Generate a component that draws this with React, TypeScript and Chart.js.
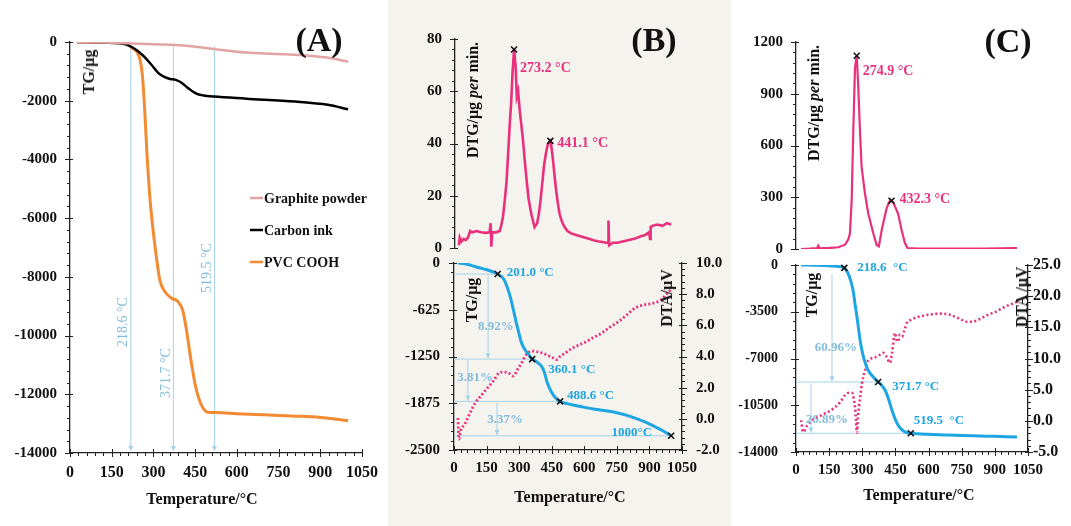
import React, { useEffect, useRef } from 'react';
import { Chart, registerables } from 'chart.js';

const SERIF = '"Liberation Serif", "Times New Roman", serif';
const PINK = '#e8307c';
const BLUE = '#1ea5e3';
const LIGHT_LINE = '#a6d2ea';
const LIGHT_TEXT = '#84bddc';
const INK = '#111111';

// ---------- Panel A : TG curves ----------
const aSeriesNames = ['Graphite powder', 'Carbon ink', 'PVC COOH'];
const aGraphiteT = [25, 100, 200, 300, 380, 450, 518, 600, 700, 775, 850, 925, 1000];
const aGraphiteW = [0, -10, -40, -80, -100, -160, -237, -330, -390, -420, -460, -530, -670];
const aInkT = [25, 100, 150, 200, 222, 247, 271, 295, 317, 341, 360, 380, 400, 423, 440, 458, 480, 518, 634, 810, 927, 1000];
const aInkW = [0, -10, -30, -80, -170, -330, -540, -800, -1050, -1200, -1260, -1290, -1380, -1560, -1680, -1770, -1820, -1860, -1930, -2030, -2140, -2290];
const aPvcT = [25, 150, 200, 222, 240, 252, 260, 268, 276, 288, 300, 312, 323, 341, 364, 388, 405, 417, 435, 452, 470, 493, 528, 600, 700, 800, 900, 1000];
const aPvcW = [0, -10, -40, -200, -330, -600, -1100, -2200, -3680, -5380, -6510, -7420, -8110, -8500, -8720, -8840, -9130, -9700, -10840, -11750, -12310, -12600, -12620, -12660, -12700, -12740, -12790, -12900];
const aOnsetT = [218.6, 371.7, 519.5];

// ---------- Panel B ----------
const bDtgT = [18, 22, 30, 40, 50, 60, 70, 80, 100, 120, 140, 160, 165, 168, 172, 190, 207, 215, 222, 230, 238, 245, 253, 260, 266, 273.2, 280, 286, 292, 299, 307, 315, 322, 330, 340, 353, 368, 380, 388, 396, 404, 411, 420, 430, 441.1, 447, 453, 460, 468, 476, 484, 495, 507, 520, 537, 560, 580, 599, 620, 640, 660, 675, 700, 708, 710, 713, 730, 752, 780, 800, 829, 860, 880, 898, 902, 905, 915, 936, 960, 980, 1000];
const bDtgV = [1, 4, 2.5, 3.5, 3, 4, 6.5, 6, 6.5, 6, 5.8, 6, 9.5, 0.5, 6, 6, 6.5, 9, 12, 18, 25, 35, 47, 56, 67, 76, 70, 58, 60, 53, 47, 41, 34, 27, 19, 13, 8, 9.5, 13, 18.5, 25, 31, 36, 40, 41, 38, 34, 28, 22, 17, 13, 10, 8, 6.5, 5.6, 5, 4.5, 4, 3.5, 3, 2.6, 2.4, 2, 2, 10.5, 1, 2, 2, 2.6, 3, 3.5, 4.5, 5, 6, 3.5, 8, 8.5, 9, 8.5, 9.5, 9];
const bPeakT = [273.2, 441.1];
const bPeakV = [76, 41];

const bTgT = [18, 50, 100, 150, 201, 230, 254, 270, 287, 300, 310, 325, 340, 360.1, 380, 400, 415, 430, 450, 470, 488.6, 520, 560, 601, 650, 700, 754, 800, 850, 879, 920, 960, 1000];
const bTgV = [0, -10, -50, -90, -147, -220, -400, -580, -800, -950, -1060, -1150, -1210, -1285, -1320, -1370, -1450, -1605, -1730, -1810, -1850, -1880, -1905, -1930, -1955, -1975, -2005, -2040, -2090, -2125, -2180, -2240, -2310];
const bDtaT = [18, 23, 30, 51, 75, 97, 125, 158, 185, 204, 227, 250, 273, 296, 312, 327, 342, 358, 385, 411, 435, 457, 475, 488, 510, 541, 570, 601, 640, 680, 720, 754, 790, 833, 870, 911, 950, 985, 1000];
const bDtaV = [0.05, -1.3, -0.8, -0.3, 0.4, 1.0, 1.5, 2.05, 2.5, 2.9, 3.0, 2.95, 2.75, 3.25, 3.6, 4.0, 4.25, 4.35, 4.3, 4.2, 4.05, 3.9, 3.8, 4.0, 4.2, 4.5, 4.7, 4.9, 5.2, 5.5, 5.9, 6.2, 6.6, 7.1, 7.3, 7.4, 7.6, 8.1, 8.3];
const bMarkT = [201.0, 360.1, 488.6, 1000];
const bMarkV = [-147, -1285, -1850, -2310];
const bMarkText = ['201.0 °C', '360.1 °C', '488.6 °C', '1000°C'];
const bLossText = ['8.92%', '3.81%', '3.37%'];

// ---------- Panel C ----------
const cDtgT = [23, 60, 95, 100, 104, 150, 192, 222, 237, 244, 252, 259, 267, 274.9, 282, 290, 297, 312, 327, 350, 365, 375, 388, 400, 410, 420, 428, 432.3, 440, 452, 463, 478, 493, 505, 550, 700, 850, 1000];
const cDtgV = [0, 2, 5, 18, 4, 6, 10, 25, 56, 90, 283, 670, 1052, 1120, 937, 670, 475, 323, 206, 90, 23, 15, 110, 180, 235, 268, 285, 280, 270, 235, 200, 110, 34, 5, 3, 3, 3, 5];
const cPeakT = [274.9, 432.3];
const cPeakV = [1120, 280];

const cTgT = [23, 100, 150, 200, 218.6, 235, 248, 258, 267, 276, 290, 301, 312, 323, 335, 355, 371.7, 385, 403, 418, 434, 448, 462, 480, 502, 519.5, 600, 688, 800, 900, 1000];
const cTgV = [0, -20, -60, -130, -220, -600, -1200, -1870, -2900, -3890, -5610, -6600, -7260, -7750, -8090, -8480, -8760, -8950, -9360, -10000, -10860, -11500, -11980, -12350, -12560, -12600, -12680, -12730, -12780, -12830, -12880];
const cDtaT = [23, 32, 50, 72, 100, 131, 155, 177, 200, 222, 240, 253, 262, 267, 272, 276, 280, 285, 292, 299, 310, 321, 340, 358, 380, 394, 410, 425, 435, 448, 455, 462, 470, 480, 490, 502, 520, 539, 580, 615, 650, 688, 720, 751, 775, 797, 830, 869, 910, 946, 1000];
const cDtaV = [0.1, -1.8, -0.8, 0.1, 0.6, 1.2, 1.6, 2.2, 3.0, 4.1, 4.5, 4.5, 3.5, 2.2, 0, -1.9, 0.5, 2.2, 4.2, 6.1, 7.8, 9.3, 10.0, 10.2, 10.6, 10.9, 10.3, 9.3, 11, 14.1, 13.0, 12.7, 13.8, 13.5, 14.5, 15.7, 16.2, 16.5, 16.9, 17.1, 17.2, 17.1, 16.7, 16.2, 15.9, 15.9, 16.3, 17.0, 17.6, 18.3, 19.1];
const cMarkT = [218.6, 371.7, 519.5];
const cMarkV = [-220, -8760, -12600];
const cMarkText = ['218.6  °C', '371.7 °C', '519.5  °C'];
const cLossText = ['60.96%', '26.89%'];

const xy = (t: number[], v: number[]) => t.map((x, i) => ({ x, y: v[i] }));
const fmtT = (t: number) => `${t.toFixed(1)} °C`;

// ---------- plugins ----------
const tickMarks = {
  id: 'tickMarks',
  afterDraw(chart: any, _a: any, opts: any) {
    const specs = opts && opts.axes;
    if (!specs) return;
    const ctx = chart.ctx;
    const ca = chart.chartArea;
    ctx.save();
    ctx.strokeStyle = '#222';
    ctx.lineWidth = 1;
    Object.keys(specs).forEach((id) => {
      const s = chart.scales[id];
      if (!s) return;
      const major = specs[id].major;
      const minor = specs[id].minor;
      const n = Math.round((s.max - s.min) / minor);
      for (let i = 0; i <= n; i++) {
        const v = s.min + i * minor;
        const r = v / major;
        const isMajor = Math.abs(r - Math.round(r)) < 1e-6;
        const p = Math.round(s.getPixelForValue(v)) + 0.5;
        ctx.beginPath();
        if (s.isHorizontal()) {
          const y = ca.bottom;
          ctx.moveTo(p, isMajor ? y - 4 : y);
          ctx.lineTo(p, y + (isMajor ? 4 : 3));
        } else if (s.position === 'left') {
          const x = ca.left;
          ctx.moveTo(isMajor ? x + 3 : x, p);
          ctx.lineTo(x - (isMajor ? 5 : 3), p);
        } else {
          const x = ca.right;
          ctx.moveTo(isMajor ? x - 3 : x, p);
          ctx.lineTo(x + (isMajor ? 5 : 3), p);
        }
        ctx.stroke();
      }
    });
    ctx.restore();
  },
};

const annot = {
  id: 'annot',
  beforeDatasetsDraw(chart: any, _a: any, opts: any) {
    const lines = (opts && opts.lines) || [];
    const ctx = chart.ctx;
    const xs = chart.scales.x;
    ctx.save();
    for (const l of lines) {
      const ys = chart.scales[l.axis || 'y'];
      const x1 = xs.getPixelForValue(l.x1);
      const x2 = xs.getPixelForValue(l.x2);
      const y1 = ys.getPixelForValue(l.y1);
      const y2 = ys.getPixelForValue(l.y2);
      ctx.strokeStyle = l.color;
      ctx.fillStyle = l.color;
      ctx.lineWidth = l.width || 1;
      ctx.beginPath();
      ctx.moveTo(x1, y1);
      ctx.lineTo(x2, y2);
      ctx.stroke();
      if (l.arrow) {
        const ang = Math.atan2(y2 - y1, x2 - x1);
        const L = 5, W = 2.5;
        ctx.beginPath();
        ctx.moveTo(x2, y2);
        ctx.lineTo(x2 - L * Math.cos(ang) + W * Math.sin(ang), y2 - L * Math.sin(ang) - W * Math.cos(ang));
        ctx.lineTo(x2 - L * Math.cos(ang) - W * Math.sin(ang), y2 - L * Math.sin(ang) + W * Math.cos(ang));
        ctx.closePath();
        ctx.fill();
      }
    }
    ctx.restore();
  },
  afterDatasetsDraw(chart: any, _a: any, opts: any) {
    if (!opts) return;
    const ctx = chart.ctx;
    const xs = chart.scales.x;
    ctx.save();
    for (const m of opts.markers || []) {
      const ys = chart.scales[m.axis || 'y'];
      const px = xs.getPixelForValue(m.x);
      const py = ys.getPixelForValue(m.y);
      ctx.strokeStyle = '#111';
      ctx.lineWidth = 1.6;
      ctx.beginPath();
      ctx.moveTo(px - 3, py - 3);
      ctx.lineTo(px + 3, py + 3);
      ctx.moveTo(px + 3, py - 3);
      ctx.lineTo(px - 3, py + 3);
      ctx.stroke();
    }
    for (const t of opts.texts || []) {
      const ys = chart.scales[t.axis || 'y'];
      const px = xs.getPixelForValue(t.x) + (t.dx || 0);
      const py = ys.getPixelForValue(t.y) + (t.dy || 0);
      ctx.save();
      ctx.translate(px, py);
      if (t.rotate) ctx.rotate((t.rotate * Math.PI) / 180);
      ctx.font = t.font;
      ctx.fillStyle = t.color;
      ctx.textAlign = t.align || 'left';
      ctx.textBaseline = 'middle';
      ctx.fillText(t.text, 0, 0);
      ctx.restore();
    }
    ctx.restore();
  },
};

const miniLegend = {
  id: 'miniLegend',
  afterDatasetsDraw(chart: any, _a: any, opts: any) {
    if (!opts || !opts.show) return;
    const ctx = chart.ctx;
    const ca = chart.chartArea;
    chart.data.datasets.forEach((d: any, i: number) => {
      const x = ca.left + opts.dx;
      const y = ca.top + opts.dy + i * opts.gap;
      ctx.save();
      ctx.strokeStyle = d.borderColor;
      ctx.lineWidth = 2.5;
      ctx.beginPath();
      ctx.moveTo(x, y);
      ctx.lineTo(x + 13, y);
      ctx.stroke();
      ctx.fillStyle = INK;
      ctx.font = `bold 14px ${SERIF}`;
      ctx.textAlign = 'left';
      ctx.textBaseline = 'middle';
      ctx.fillText(d.label, x + 14, y + 1);
      ctx.restore();
    });
  },
};

Chart.register(...registerables, tickMarks, annot, miniLegend);

// ---------- axis helpers ----------
const tickFont = (size: number) => ({ family: SERIF, weight: 'bold' as const, size });
const border = { display: true, color: '#222', width: 1.3 };
const noGrid = { drawOnChartArea: false, drawTicks: false };

function xAxis(h: number, pad: number, size: number) {
  return {
    type: 'linear', min: 0, max: 1050,
    afterFit: (s: any) => { s.height = h; },
    grid: noGrid, border,
    ticks: { stepSize: 150, autoSkip: false, maxRotation: 0, minRotation: 0, padding: pad, color: INK, font: tickFont(size), callback: (v: number) => String(v) },
  };
}
const hiddenX = { type: 'linear', min: 0, max: 1050, display: false };
function yAxis(position: string, min: number, max: number, step: number, w: number, pad: number, size: number, fmt: (v: number) => string) {
  return {
    type: 'linear', position, min, max,
    afterFit: (s: any) => { s.width = w; },
    grid: noGrid, border,
    ticks: { stepSize: step, autoSkip: false, padding: pad, color: INK, font: tickFont(size), callback: fmt },
  };
}
const intFmt = (v: number) => String(v);
const oneFmt = (v: number) => v.toFixed(1);

const base = { animation: false, responsive: false, maintainAspectRatio: false };
const hidePlugins = { legend: { display: false }, tooltip: { enabled: false } };

function line(label: string, data: any[], color: string, width: number, extra: any = {}) {
  return { label, data, borderColor: color, backgroundColor: color, borderWidth: width, pointRadius: 0, fill: false, ...extra };
}

const lblFont = (size: number, bold = true) => `${bold ? 'bold ' : ''}${size}px ${SERIF}`;

// ---------- chart configs ----------
function cfgA() {
  const aLabelY = [-9540, -11280, -7700];
  return {
    type: 'line',
    data: {
      datasets: [
        line(aSeriesNames[0], xy(aGraphiteT, aGraphiteW), '#e4a3a3', 2.5, { cubicInterpolationMode: 'monotone' }),
        line(aSeriesNames[1], xy(aInkT, aInkW), '#000000', 2.5, { cubicInterpolationMode: 'monotone' }),
        line(aSeriesNames[2], xy(aPvcT, aPvcW), '#f28b32', 3, { cubicInterpolationMode: 'monotone' }),
      ],
    },
    options: {
      ...base,
      layout: { padding: { left: 0, top: 42, right: 20, bottom: 0 } },
      scales: { x: xAxis(73, 10, 16), y: yAxis('left', -14000, 0, 2000, 70, 13, 15, intFmt) },
      plugins: {
        ...hidePlugins,
        tickMarks: { axes: { x: { major: 150, minor: 30 }, y: { major: 2000, minor: 400 } } },
        miniLegend: { show: true, dx: 180, dy: 156, gap: 32 },
        annot: {
          lines: aOnsetT.map((t) => ({ x1: t, y1: -150, x2: t, y2: -13930, color: LIGHT_LINE, width: 1, arrow: true })),
          texts: aOnsetT.map((t, i) => ({ x: t, y: aLabelY[i], dx: -7, text: fmtT(t), color: LIGHT_TEXT, font: lblFont(14, false), align: 'center', rotate: -90 })),
        },
      },
    },
  };
}

function cfgBTop() {
  const off = [[6, 19], [7, 3]];
  return {
    type: 'line',
    data: { datasets: [line('DTG', xy(bDtgT, bDtgV), PINK, 2.6)] },
    options: {
      ...base,
      layout: { padding: { left: 0, top: 39, right: 49, bottom: 23 } },
      scales: { x: hiddenX, y: yAxis('left', 0, 80, 20, 67, 13, 15, intFmt) },
      plugins: {
        ...hidePlugins,
        tickMarks: { axes: { y: { major: 20, minor: 4 } } },
        annot: {
          markers: bPeakT.map((t, i) => ({ x: t, y: bPeakV[i] })),
          texts: bPeakT.map((t, i) => ({ x: t, y: bPeakV[i], dx: off[i][0], dy: off[i][1], text: fmtT(t), color: PINK, font: lblFont(14) })),
        },
      },
    },
  };
}

function cfgBBot() {
  const off = [[9, -1], [16, 11], [7, -6], [-19, -3]];
  const lossPos = [[193, -856], [97, -1537], [235, -2099]];
  return {
    type: 'line',
    data: {
      datasets: [
        line('TG', xy(bTgT, bTgV), BLUE, 3, { cubicInterpolationMode: 'monotone', yAxisID: 'y' }),
        line('DTA', xy(bDtaT, bDtaV), PINK, 2.8, { borderDash: [2, 2.2], cubicInterpolationMode: 'monotone', yAxisID: 'y2' }),
      ],
    },
    options: {
      ...base,
      layout: { padding: { left: 0, top: 24, right: 0, bottom: 0 } },
      scales: {
        x: xAxis(76, 9, 15),
        y: yAxis('left', -2500, 0, 625, 66, 14, 15, intFmt),
        y2: yAxis('right', -2, 10, 2, 49, 14, 15, oneFmt),
      },
      plugins: {
        ...hidePlugins,
        tickMarks: { axes: { x: { major: 150, minor: 30 }, y: { major: 625, minor: 125 }, y2: { major: 2, minor: 0.4 } } },
        annot: {
          lines: [
            ...bMarkT.map((t, i) => ({ x1: 0, y1: bMarkV[i], x2: t, y2: bMarkV[i], color: LIGHT_LINE, width: 1 })),
            { x1: 157, y1: bMarkV[0], x2: 157, y2: bMarkV[1] + 10, color: LIGHT_LINE, width: 1, arrow: true },
            { x1: 64, y1: bMarkV[1] - 12, x2: 64, y2: bMarkV[2] + 10, color: LIGHT_LINE, width: 1, arrow: true },
            { x1: 198, y1: bMarkV[2] - 22, x2: 198, y2: bMarkV[3] + 10, color: LIGHT_LINE, width: 1, arrow: true },
          ],
          markers: bMarkT.map((t, i) => ({ x: t, y: bMarkV[i] })),
          texts: [
            ...bMarkT.map((t, i) => ({ x: t, y: bMarkV[i], dx: off[i][0], dy: off[i][1], text: bMarkText[i], color: BLUE, font: lblFont(13), align: i === 3 ? 'right' : 'left' })),
            ...bLossText.map((s, i) => ({ x: lossPos[i][0], y: lossPos[i][1], text: s, color: LIGHT_TEXT, font: lblFont(13), align: 'center' })),
          ],
        },
      },
    },
  };
}

function cfgCTop() {
  const off = [[6, 16], [8, -1]];
  return {
    type: 'line',
    data: { datasets: [line('DTG', xy(cDtgT, cDtgV), PINK, 2.2)] },
    options: {
      ...base,
      layout: { padding: { left: 0, top: 42, right: 43, bottom: 23 } },
      scales: { x: hiddenX, y: yAxis('left', 0, 1200, 300, 65, 13, 15, intFmt) },
      plugins: {
        ...hidePlugins,
        tickMarks: { axes: { y: { major: 300, minor: 60 } } },
        annot: {
          markers: cPeakT.map((t, i) => ({ x: t, y: cPeakV[i] })),
          texts: cPeakT.map((t, i) => ({ x: t, y: cPeakV[i], dx: off[i][0], dy: off[i][1], text: fmtT(t), color: PINK, font: lblFont(14) })),
        },
      },
    },
  };
}

function cfgCBot() {
  const off = [[13, 0], [14, 5], [3, -13]];
  const lossPos = [[181, -6214], [140, -11604]];
  return {
    type: 'line',
    data: {
      datasets: [
        line('TG', xy(cTgT, cTgV), BLUE, 3, { cubicInterpolationMode: 'monotone', yAxisID: 'y' }),
        line('DTA', xy(cDtaT, cDtaV), PINK, 2.6, { borderDash: [2, 2.5], cubicInterpolationMode: 'monotone', yAxisID: 'y2' }),
      ],
    },
    options: {
      ...base,
      layout: { padding: { left: 0, top: 27, right: 0, bottom: 0 } },
      scales: {
        x: xAxis(74, 9, 15),
        y: yAxis('left', -14000, 0, 3500, 65, 18, 14, intFmt),
        y2: yAxis('right', -5, 25, 5, 43, 5, 16, oneFmt),
      },
      plugins: {
        ...hidePlugins,
        tickMarks: { axes: { x: { major: 150, minor: 30 }, y: { major: 3500, minor: 700 }, y2: { major: 5, minor: 1 } } },
        annot: {
          lines: [
            { x1: 0, y1: cMarkV[1], x2: cMarkT[1], y2: cMarkV[1], color: LIGHT_LINE, width: 1 },
            { x1: 0, y1: cMarkV[2], x2: cMarkT[2], y2: cMarkV[2], color: LIGHT_LINE, width: 1 },
            { x1: 163, y1: -700, x2: 163, y2: cMarkV[1] + 60, color: LIGHT_LINE, width: 1, arrow: true },
            { x1: 68, y1: cMarkV[1] - 100, x2: 68, y2: cMarkV[2] + 60, color: LIGHT_LINE, width: 1, arrow: true },
          ],
          markers: cMarkT.map((t, i) => ({ x: t, y: cMarkV[i] })),
          texts: [
            ...cMarkT.map((t, i) => ({ x: t, y: cMarkV[i], dx: off[i][0], dy: off[i][1], text: cMarkText[i], color: BLUE, font: lblFont(13) })),
            ...cLossText.map((s, i) => ({ x: lossPos[i][0], y: lossPos[i][1], text: s, color: LIGHT_TEXT, font: lblFont(13), align: 'center' })),
          ],
        },
      },
    },
  };
}

function ChartBox({ left, top, width, height, make }: any) {
  const ref = useRef<HTMLCanvasElement>(null);
  useEffect(() => {
    const c = new Chart(ref.current as HTMLCanvasElement, make() as any);
    return () => c.destroy();
  }, []);
  return <canvas ref={ref} width={width} height={height} style={{ position: 'absolute', left, top, width, height }} />;
}

function Label({ x, y, size = 16, rotate = false, children }: any) {
  return (
    <div
      style={{
        position: 'absolute', left: x, top: y, whiteSpace: 'nowrap',
        transform: `translate(-50%, -50%)${rotate ? ' rotate(-90deg)' : ''}`,
        font: `bold ${size}px ${SERIF}`, color: INK, lineHeight: 1,
      }}
    >
      {children}
    </div>
  );
}

export default function App() {
  return (
    <div style={{ position: 'fixed', left: 0, top: 0, width: 1071, height: 526, background: '#ffffff', overflow: 'hidden' }}>
      <div style={{ position: 'absolute', left: 388, top: 0, width: 343, height: 526, background: '#f5f3ee' }} />
      <ChartBox left={0} top={0} width={388} height={526} make={cfgA} />
      <ChartBox left={388} top={0} width={343} height={271} make={cfgBTop} />
      <ChartBox left={388} top={239} width={343} height={287} make={cfgBBot} />
      <ChartBox left={731} top={0} width={340} height={272} make={cfgCTop} />
      <ChartBox left={731} top={238} width={340} height={288} make={cfgCBot} />

      <Label x={319} y={40} size={34}>(A)</Label>
      <Label x={654} y={40} size={34}>(B)</Label>
      <Label x={1008} y={41} size={34}>(C)</Label>

      <Label x={202} y={499}>Temperature/°C</Label>
      <Label x={570} y={497}>Temperature/°C</Label>
      <Label x={919} y={495}>Temperature/°C</Label>

      <Label x={89} y={72} rotate>TG/μg</Label>
      <Label x={473} y={100} rotate>DTG/μg <i>per</i> min.</Label>
      <Label x={472} y={300} rotate>TG/μg</Label>
      <Label x={667} y={298} rotate>DTA/μV</Label>
      <Label x={814} y={103} rotate>DTG/μg <i>per</i> min.</Label>
      <Label x={812} y={295} rotate>TG/μg</Label>
      <Label x={1022} y={297} rotate>DTA /μV</Label>
    </div>
  );
}
